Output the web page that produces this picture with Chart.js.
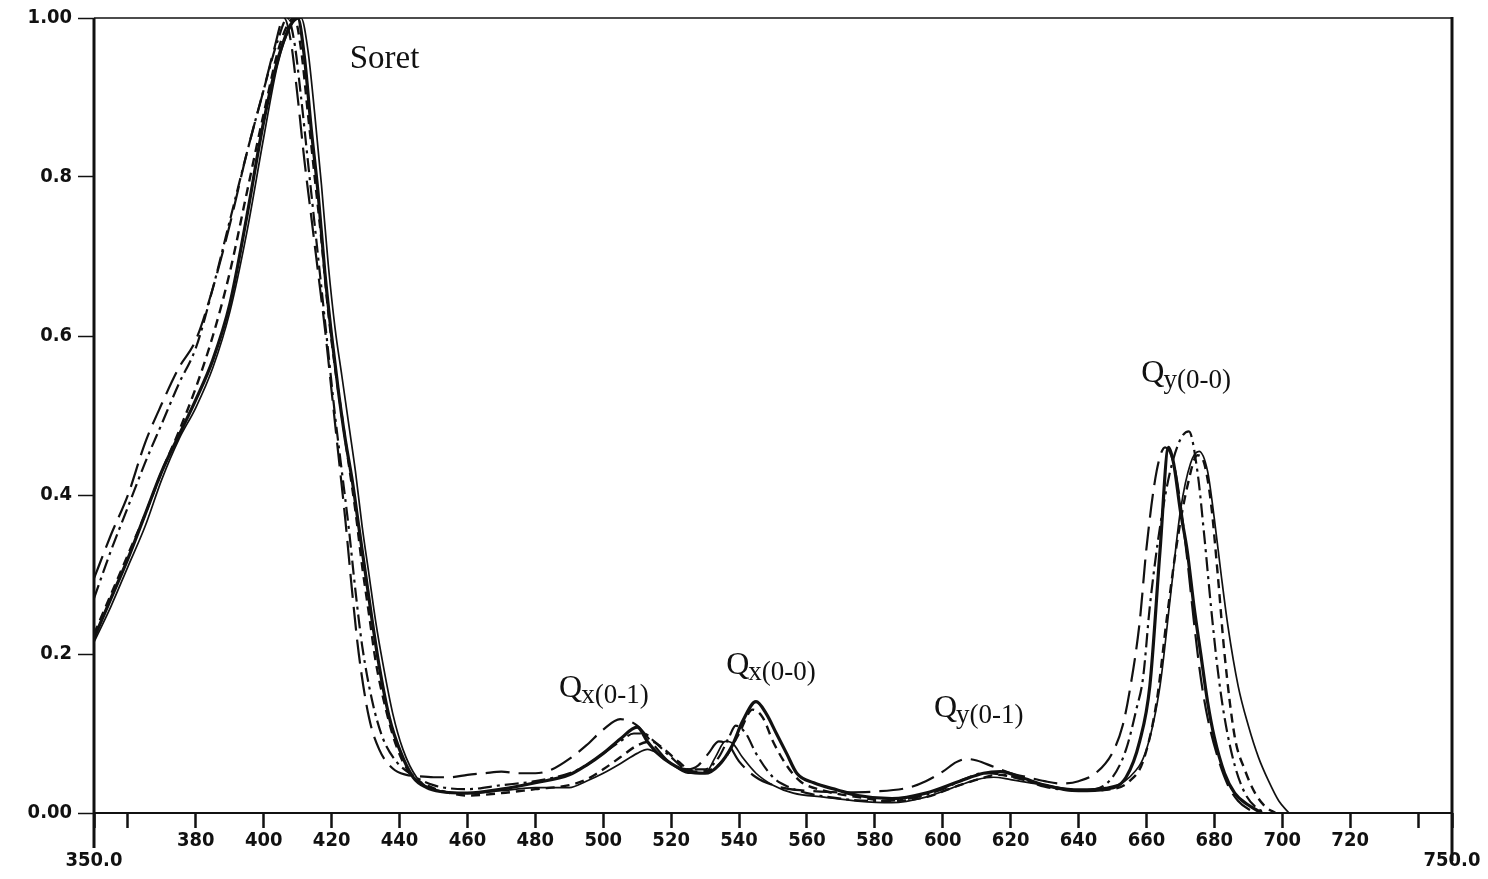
<!DOCTYPE html>
<html>
<head>
<meta charset="utf-8">
<script src="https://cdn.jsdelivr.net/npm/chart.js@4.4.1/dist/chart.umd.min.js"></script>
<style>
  html, body { margin: 0; padding: 0; background: #ffffff; }
  #wrap { width: 1488px; height: 879px; position: relative; }
</style>
</head>
<body>
<div id="wrap"><canvas id="spectra"></canvas></div>
<script>
// ---- Normalised absorption spectra (wavelength in nm, absorbance) ----

// solid, bold
const nmSolidBold = [350,355,360,365,370,375,380,385,390,395,400,405,
  410,412,414,416,418,420,422,424,426,428,430,432,434,
  437,440,444,448,452,460,
  470,480,490,495,500,505,510,513,516,520,525,530,534,538,541,545,548,551,554,557,
  562,569,575,585,595,605,612,617,623,630,640,648,654,658,661,664,666.5,668,670,672,674,676,678,680,683,686,690,694];
const absSolidBold = [0.22,0.27,0.32,0.375,0.43,0.475,0.52,0.57,0.64,0.75,0.87,0.96,
  1.0,0.95,0.86,0.78,0.68,0.6,0.53,0.47,0.42,0.36,0.3,0.24,0.185,
  0.12,0.08,0.045,0.032,0.027,0.025,
  0.03,0.038,0.048,0.06,0.075,0.093,0.108,0.09,0.075,0.062,0.052,0.05,0.06,0.085,0.115,0.14,0.125,0.1,0.075,0.05,
  0.038,0.029,0.022,0.018,0.025,0.04,0.05,0.052,0.045,0.035,0.028,0.03,0.045,0.09,0.16,0.33,0.46,0.44,0.38,0.33,0.26,0.2,0.14,0.095,0.05,0.025,0.01,0];

// solid, thin
const nmSolidThin = [350,355,360,365,370,375,380,385,390,395,400,
  404,408,411,
  413,415,417,419,421,423,425,427,429,431,433,435,
  438,441,445,450,460,
  470,480,490,495,500,505,510,513,516,520,525,530,533,536,538,541,545,550,556,
  565,575,585,595,605,610,615,620,630,640,648,655,660,664,667,670,673,675.5,678,680,682,684,687,690,693,696,699,702];
const absSolidThin = [0.215,0.26,0.31,0.36,0.42,0.47,0.51,0.56,0.63,0.73,0.85,
  0.94,0.99,1.0,
  0.96,0.88,0.79,0.69,0.61,0.55,0.49,0.43,0.36,0.3,0.24,0.19,
  0.125,0.08,0.045,0.03,0.025,
  0.028,0.032,0.032,0.04,0.05,0.062,0.075,0.08,0.075,0.062,0.05,0.05,0.07,0.09,0.088,0.07,0.05,0.035,0.025,
  0.02,0.015,0.013,0.02,0.035,0.042,0.045,0.042,0.035,0.03,0.032,0.045,0.08,0.16,0.27,0.38,0.44,0.455,0.43,0.37,0.3,0.235,0.16,0.11,0.07,0.04,0.015,0];

// long dashes
const nmLongDash = [350,355,360,365,370,375,380,385,390,395,400,
  403,406,
  408,410,412,414,416,418,420,422,424,426,428,
  431,434,438,442,446,450,
  455,460,465,470,475,480,485,490,495,500,505,510,515,520,525,
  528,531,534,537,540,545,550,555,560,
  570,580,590,595,600,604,607,610,615,620,625,630,635,640,645,650,
  653,655,658,660,663,665.5,668,670,672,674,676,678,681,684,687,690,693];
const absLongDash = [0.295,0.35,0.40,0.465,0.515,0.56,0.595,0.66,0.74,0.83,0.91,
  0.96,1.0,
  0.97,0.9,0.82,0.75,0.68,0.61,0.53,0.45,0.37,0.28,0.2,
  0.12,0.08,0.056,0.048,0.046,0.045,
  0.045,0.048,0.05,0.052,0.05,0.05,0.055,0.068,0.085,0.105,0.118,0.11,0.085,0.062,0.055,
  0.06,0.075,0.09,0.085,0.065,0.045,0.035,0.03,0.028,
  0.026,0.027,0.032,0.04,0.052,0.064,0.068,0.066,0.058,0.05,0.045,0.04,0.037,0.04,0.05,0.076,
  0.11,0.152,0.24,0.333,0.43,0.46,0.44,0.39,0.32,0.24,0.17,0.12,0.07,0.035,0.015,0.005,0];

// dash-dot
const nmDashDot = [350,355,360,365,370,375,380,385,390,395,400,
  404,407,
  409,411,413,415,417,419,421,423,425,427,429,
  432,435,439,443,450,460,
  470,480,490,495,500,505,509,512,515,520,525,530,534,537,539,542,545,550,555,560,
  570,580,590,600,606,612,618,625,630,640,645,650,
  654,657,659,661,664,667,670,672.5,675,677,679,681,683,686,689,692,695];
const absDashDot = [0.27,0.33,0.385,0.44,0.49,0.54,0.585,0.66,0.745,0.83,0.91,
  0.97,1.0,
  0.97,0.9,0.82,0.74,0.66,0.58,0.5,0.43,0.36,0.28,0.21,
  0.14,0.095,0.065,0.05,0.035,0.03,
  0.035,0.04,0.05,0.06,0.075,0.09,0.1,0.1,0.09,0.07,0.055,0.055,0.07,0.095,0.11,0.1,0.075,0.045,0.032,0.025,
  0.018,0.015,0.018,0.03,0.042,0.05,0.048,0.04,0.033,0.028,0.03,0.045,
  0.08,0.13,0.17,0.26,0.36,0.43,0.47,0.48,0.43,0.35,0.26,0.18,0.12,0.06,0.025,0.008,0];

// short dashes
const nmShortDash = [350,355,360,365,370,375,380,385,390,395,400,405,
  409,411,413,415,417,419,421,423,425,427,429,431,433,
  436,439,443,448,455,460,
  470,480,490,495,500,505,510,514,518,522,527,532,536,540,544,547,550,554,558,
  565,575,585,595,605,611,616,622,630,640,650,655,659,663,666,669,672,675,677,679,681,683,686,689,692,695,698];
const absShortDash = [0.225,0.275,0.325,0.375,0.43,0.48,0.535,0.6,0.68,0.78,0.88,0.97,
  1.0,0.96,0.88,0.8,0.72,0.63,0.56,0.5,0.44,0.38,0.31,0.25,0.19,
  0.13,0.085,0.05,0.035,0.025,0.022,
  0.025,0.03,0.035,0.042,0.055,0.07,0.085,0.09,0.08,0.065,0.052,0.055,0.07,0.1,0.13,0.12,0.09,0.06,0.04,
  0.028,0.02,0.015,0.02,0.035,0.043,0.048,0.044,0.035,0.028,0.03,0.04,0.065,0.14,0.245,0.34,0.41,0.45,0.44,0.39,0.3,0.2,0.096,0.054,0.025,0.008,0];

// ---- Axis ticks ----
const xTickValues = [350,360,380,400,420,440,460,480,500,520,540,560,580,600,620,640,660,680,700,720,740,750];
const xTickLabels = ['350.0','','380','400','420','440','460','480','500','520','540','560','580','600','620','640','660','680','700','720','','750.0'];
const yTickValues = [0,0.2,0.4,0.6,0.8,1.0];
const yTickLabels = ['0.00','0.2','0.4','0.6','0.8','1.00'];

// ---- Band assignments written on the plot (anchor in nm / absorbance) ----
const bandNames = ['Soret','Q','Q','Q','Q'];
const bandSubs  = ['','x(0-1)','x(0-0)','y(0-1)','y(0-0)'];
const bandNm    = [425.3,487.0,536.2,597.4,658.5];
const bandAbs   = [0.937,0.146,0.175,0.121,0.542];

// ---------------------------------------------------------------------
const tickFont = "'Liberation Sans Narrow', 'DejaVu Sans Condensed', 'Roboto', sans-serif";
const serifFont = "'Liberation Serif', 'DejaVu Serif', serif";

function pairs(xs, ys) {
  const n = Math.min(xs.length, ys.length);
  const out = [];
  for (let i = 0; i < n; i++) out.push({ x: xs[i], y: ys[i] });
  return out;
}

function series(label, xs, ys, width, dash) {
  return {
    label,
    data: pairs(xs, ys),
    borderColor: '#111',
    backgroundColor: '#111',
    borderWidth: width,
    borderDash: dash,
    borderCapStyle: 'butt',
    borderJoinStyle: 'round',
    pointRadius: 0,
    fill: false,
    cubicInterpolationMode: 'monotone'
  };
}

// frame: heavy left/right verticals that run past the baseline, thin top rule
const framePlugin = {
  id: 'frame',
  afterDatasetsDraw(chart) {
    const { ctx, chartArea: a } = chart;
    ctx.save();
    ctx.strokeStyle = '#111';
    ctx.lineCap = 'butt';
    ctx.lineWidth = 1.6;
    ctx.beginPath(); ctx.moveTo(a.left, a.top); ctx.lineTo(a.right, a.top); ctx.stroke();
    ctx.lineWidth = 2;
    ctx.beginPath(); ctx.moveTo(a.left, a.bottom); ctx.lineTo(a.right, a.bottom); ctx.stroke();
    ctx.lineWidth = 3;
    ctx.beginPath(); ctx.moveTo(a.left, a.top); ctx.lineTo(a.left, a.bottom + 35); ctx.stroke();
    ctx.beginPath(); ctx.moveTo(a.right, a.top - 1); ctx.lineTo(a.right, a.bottom + 48); ctx.stroke();
    ctx.restore();
  }
};

const bandLabelPlugin = {
  id: 'bandLabels',
  afterDatasetsDraw(chart) {
    const { ctx, scales } = chart;
    ctx.save();
    ctx.fillStyle = '#111';
    ctx.textBaseline = 'alphabetic';
    ctx.textAlign = 'left';
    for (let i = 0; i < bandNames.length; i++) {
      const x = scales.x.getPixelForValue(bandNm[i]);
      const y = scales.y.getPixelForValue(bandAbs[i]);
      ctx.font = (bandSubs[i] ? '32px ' : '33px ') + serifFont;
      ctx.fillText(bandNames[i], x, y);
      if (bandSubs[i]) {
        const w = ctx.measureText(bandNames[i]).width;
        ctx.font = '27px ' + serifFont;
        ctx.fillText(bandSubs[i], x + w - 1, y + 6);
      }
    }
    ctx.restore();
  }
};

new Chart(document.getElementById('spectra'), {
  type: 'line',
  data: {
    datasets: [
      series('solid bold', nmSolidBold, absSolidBold, 3.2, []),
      series('solid thin', nmSolidThin, absSolidThin, 1.7, []),
      series('long dash', nmLongDash, absLongDash, 2.2, [24, 9]),
      series('dash-dot', nmDashDot, absDashDot, 2.2, [14, 5, 3, 5]),
      series('short dash', nmShortDash, absShortDash, 2.4, [9, 6])
    ]
  },
  options: {
    responsive: true,
    maintainAspectRatio: false,
    animation: false,
    events: [],
    layout: { padding: { top: 18, right: 36, left: 0, bottom: 0 } },
    plugins: { legend: { display: false }, tooltip: { enabled: false } },
    scales: {
      x: {
        type: 'linear',
        min: 350,
        max: 750,
        afterBuildTicks(scale) { scale.ticks = xTickValues.map(v => ({ value: v })); },
        afterFit(scale) { scale.height = 66; },
        border: { display: false },
        grid: {
          display: true,
          drawOnChartArea: false,
          drawTicks: true,
          tickLength: 15,
          tickWidth: 2.5,
          tickColor: '#111'
        },
        ticks: {
          autoSkip: false,
          maxRotation: 0,
          padding: 3,
          color: '#111',
          font: { family: tickFont, size: 20, weight: 'bold', lineHeight: 1.0 },
          callback(value) {
            const i = xTickValues.indexOf(value);
            const t = i >= 0 ? xTickLabels[i] : '';
            return (value === 350 || value === 750) ? ['', t] : t;
          }
        }
      },
      y: {
        type: 'linear',
        min: 0,
        max: 1,
        afterBuildTicks(scale) { scale.ticks = yTickValues.map(v => ({ value: v })); },
        afterFit(scale) { scale.width = 94; },
        border: { display: false },
        grid: {
          display: true,
          drawOnChartArea: false,
          drawTicks: true,
          tickLength: 16,
          tickWidth: 1.5,
          tickColor: '#111'
        },
        ticks: {
          padding: 6,
          color: '#111',
          font: { family: tickFont, size: 20, weight: 'bold' },
          callback(value) {
            const i = yTickValues.findIndex(v => Math.abs(v - value) < 1e-9);
            return i >= 0 ? yTickLabels[i] : '';
          }
        }
      }
    }
  },
  plugins: [framePlugin, bandLabelPlugin]
});
</script>
</body>
</html>
